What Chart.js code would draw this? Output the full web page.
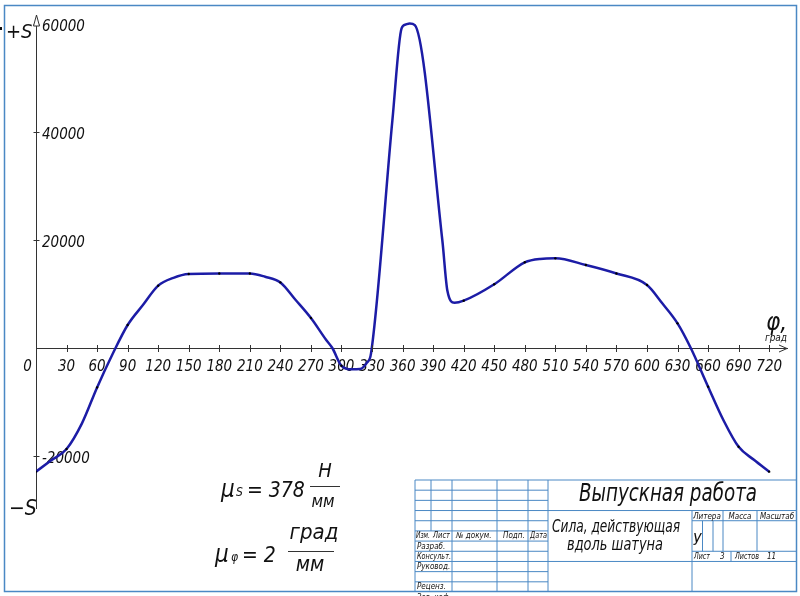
<!DOCTYPE html>
<html>
<head>
<meta charset="utf-8">
<script src="https://cdn.jsdelivr.net/npm/chart.js@4.4.1/dist/chart.umd.min.js"></script>
<style>
  html, body { margin: 0; padding: 0; background: #fff; }
  #wrap { width: 800px; height: 596px; }
</style>
</head>
<body>
<div id="wrap"><canvas id="chart" width="800" height="596"></canvas></div>
<script>
// crank angle, degrees
const phi = [0, 15, 30, 45, 60, 75, 90, 105, 120, 135, 150, 180, 210, 225, 240, 255, 270, 285, 291,
    300, 310, 318, 325, 329, 350, 359, 363, 367, 372, 399, 404, 411, 420, 450, 480, 495, 510,
    540, 570, 600, 615, 630, 643, 660, 675, 690, 705, 720];
// force along the connecting rod, N
const force = [-22900, -20800, -18700, -14000, -7300, -1200, 4260, 7960, 11540, 13000, 13700, 13800, 13800, 13200, 12150, 8900, 5550, 1480, 0,
    -3300, -3950, -3900, -2700, -1000, 42200, 59200, 59900, 60100, 59800, 20000, 10600, 8370, 8760, 11800, 15870, 16500, 16600,
    15370, 13800, 11670, 8280, 4570, 0, -7160, -13330, -18300, -20700, -22900];

const phiTicks = [0, 30, 60, 90, 120, 150, 180, 210, 240, 270, 300, 330, 360, 390, 420, 450, 480, 510, 540, 570, 600, 630, 660, 690, 720];
const forceTicks = [-20000, 20000, 40000, 60000];

const FONT = '"DejaVu Sans ExtraLight", "DejaVu Sans Condensed", "DejaVu Sans", sans-serif';
const BLUE = '#4a88c4';
const INK = '#111';

function f(size) {
    return 'italic ' + size + 'px ' + FONT;
}

function line(ctx, x1, y1, x2, y2) {
    ctx.beginPath();
    ctx.moveTo(x1, y1);
    ctx.lineTo(x2, y2);
    ctx.stroke();
}

function text(ctx, s, x, y, size, align, maxW) {
    ctx.font = f(size);
    ctx.textAlign = align || 'left';
    ctx.textBaseline = 'alphabetic';
    if (maxW) ctx.fillText(s, x, y, maxW);
    else ctx.fillText(s, x, y);
}

// frame and title block
function drawStamp(ctx) {
    ctx.save();
    ctx.strokeStyle = BLUE;
    ctx.lineWidth = 1.5;
    ctx.strokeRect(4.5, 5.5, 792, 586);

    const x0 = 415, y0 = 480, x1 = 797, y1 = 592;
    const r = (y1 - y0) / 11;
    const row = k => y0 + k * r;

    ctx.lineWidth = 1;
    // left part: rows
    for (let k = 1; k < 11; k++) line(ctx, x0, row(k), 548, row(k));
    // left part: columns
    line(ctx, x0, y0, x0, y1);
    line(ctx, 431, y0, 431, row(5));
    [452, 497, 528].forEach(x => line(ctx, x, y0, x, y1));
    line(ctx, 548, y0, 548, y1);
    line(ctx, x0, y0, x1, y0);
    // right part
    line(ctx, 548, row(3), x1, row(3));
    line(ctx, 548, row(8), x1, row(8));
    line(ctx, 692, row(3), 692, y1);
    line(ctx, 692, row(4), x1, row(4));
    line(ctx, 692, row(7), x1, row(7));
    line(ctx, 723, row(3), 723, row(7));
    line(ctx, 757, row(3), 757, row(7));
    line(ctx, 702.5, row(4), 702.5, row(7));
    line(ctx, 713, row(4), 713, row(7));
    line(ctx, 731, row(7), 731, row(8));

    ctx.fillStyle = INK;
    const hy = row(5) + 7;
    text(ctx, 'Изм.', 416, hy, 8, 'left', 14);
    text(ctx, 'Лист', 433, hy, 8, 'left', 17);
    text(ctx, '№ докум.', 456, hy, 8, 'left', 38);
    text(ctx, 'Подп.', 503, hy, 8, 'left', 22);
    text(ctx, 'Дата', 530, hy, 8, 'left', 17);
    const names = ['Разраб.', 'Консульт.', 'Руковод.', '', 'Реценз.', 'Зав. каф.'];
    names.forEach((n, i) => {
        if (n) text(ctx, n, 417, row(6 + i) + 7.5, 8, 'left', 34);
    });

    text(ctx, 'Выпускная работа', 668, 501, 24, 'center', 178);
    text(ctx, 'Сила, действующая', 552, 532, 18, 'left', 128);
    text(ctx, 'вдоль шатуна', 567, 550, 18, 'left', 96);

    text(ctx, 'Литера', 707, row(4) - 2, 8, 'center', 28);
    text(ctx, 'Масса', 740, row(4) - 2, 8, 'center', 30);
    text(ctx, 'Масштаб', 777, row(4) - 2, 8, 'center', 38);
    text(ctx, 'У', 697, row(6) + 4, 15, 'center');
    text(ctx, 'Лист', 694, row(8) - 2, 8, 'left', 16);
    text(ctx, '3', 720, row(8) - 2, 8, 'left');
    text(ctx, 'Листов', 735, row(8) - 2, 8, 'left', 24);
    text(ctx, '11', 767, row(8) - 2, 8, 'left');
    ctx.restore();
}

const sketchPlugin = {
    id: 'sketch',
    beforeDraw(chart) {
        const ctx = chart.ctx;
        ctx.save();
        ctx.fillStyle = '#fff';
        ctx.fillRect(0, 0, chart.width, chart.height);
        ctx.restore();
        drawStamp(ctx);
    },
    afterDraw(chart) {
        const ctx = chart.ctx;
        const xs = chart.scales.x, ys = chart.scales.y;
        const ca = chart.chartArea;
        const ox = Math.round(xs.getPixelForValue(0)) + 0.5;
        const oy = Math.round(ys.getPixelForValue(0)) + 0.5;
        ctx.save();
        ctx.strokeStyle = '#333';
        ctx.lineWidth = 1;
        // tick marks across the axes
        xs.ticks.forEach(t => {
            if (t.value === 0) return;
            const px = Math.round(xs.getPixelForValue(t.value)) + 0.5;
            line(ctx, px, oy - 3.5, px, oy + 3.5);
        });
        ys.ticks.forEach(t => {
            const py = Math.round(ys.getPixelForValue(t.value)) + 0.5;
            line(ctx, ox - 3, py, ox + 3, py);
        });
        // arrows
        ctx.fillStyle = '#fff';
        ctx.beginPath();
        ctx.moveTo(ox, ca.top);
        ctx.lineTo(ox - 3, ca.top + 11);
        ctx.lineTo(ox + 3, ca.top + 11);
        ctx.closePath();
        ctx.fill();
        ctx.stroke();
        line(ctx, ox, ca.top + 11, ox, ca.top + 14);
        ctx.beginPath();
        ctx.moveTo(ca.right - 8, oy - 3.5);
        ctx.lineTo(ca.right, oy);
        ctx.lineTo(ca.right - 8, oy + 3.5);
        ctx.stroke();

        ctx.fillStyle = INK;
        text(ctx, '0', ox - 9, oy + 22, 15, 'center');
        text(ctx, '+S', 6, 38, 20, 'left');
        text(ctx, '−S', 9, 515, 21, 'left');
        text(ctx, 'φ,', 766, 330, 24, 'left');
        text(ctx, 'град', 776, 341, 10, 'center');

        // scale factors
        text(ctx, 'μ', 221, 497, 24, 'left');
        text(ctx, 'S', 236, 496, 12, 'left');
        text(ctx, '= 378', 247, 497, 21, 'left');
        text(ctx, 'Н', 325, 477, 20, 'center');
        line(ctx, 310, 486.5, 340, 486.5);
        text(ctx, 'мм', 323, 507, 17, 'center');

        text(ctx, 'μ', 215, 562, 24, 'left');
        text(ctx, 'φ', 231, 561, 12, 'left');
        text(ctx, '= 2', 242, 562, 21, 'left');
        text(ctx, 'град', 314, 539, 22, 'center');
        line(ctx, 288, 551.5, 334, 551.5);
        text(ctx, 'мм', 310, 571, 21, 'center');

        ctx.fillRect(0, 27, 2, 3);
        ctx.restore();
    }
};

const points = phi.map((p, i) => ({ x: p, y: force[i] }));

new Chart(document.getElementById('chart'), {
    type: 'line',
    data: {
        datasets: [{
            label: 'S',
            data: points,
            borderColor: '#1c1ca6',
            borderWidth: 2.5,
            cubicInterpolationMode: 'monotone',
            pointRadius: ctx => (phi[ctx.dataIndex] % 30 === 0 ? 1.2 : 0),
            pointBackgroundColor: '#000',
            pointBorderWidth: 0,
            fill: false
        }]
    },
    options: {
        responsive: false,
        animation: false,
        layout: { padding: { left: 24, top: 15, right: 13, bottom: 88 } },
        plugins: {
            legend: { display: false },
            tooltip: { enabled: false }
        },
        scales: {
            x: {
                type: 'linear',
                min: 0,
                max: 737.5,
                position: { y: 0 },
                afterBuildTicks: s => { s.ticks = phiTicks.map(v => ({ value: v })); },
                grid: { display: false, drawTicks: false },
                border: { display: true, color: '#333', width: 1 },
                ticks: {
                    padding: 10,
                    autoSkip: false,
                    maxRotation: 0,
                    color: INK,
                    font: { family: FONT, size: 15, style: 'italic' },
                    callback: v => (v === 0 ? '' : String(v))
                }
            },
            y: {
                type: 'linear',
                min: -29630,
                max: 61670,
                position: 'left',
                afterBuildTicks: s => { s.ticks = forceTicks.map(v => ({ value: v })); },
                grid: { display: false, drawTicks: false },
                border: { display: true, color: '#333', width: 1 },
                ticks: {
                    mirror: true,
                    padding: 6,
                    labelOffset: 3,
                    color: INK,
                    font: { family: FONT, size: 15, style: 'italic' },
                    callback: v => String(v)
                }
            }
        }
    },
    plugins: [sketchPlugin]
});
</script>
</body>
</html>
